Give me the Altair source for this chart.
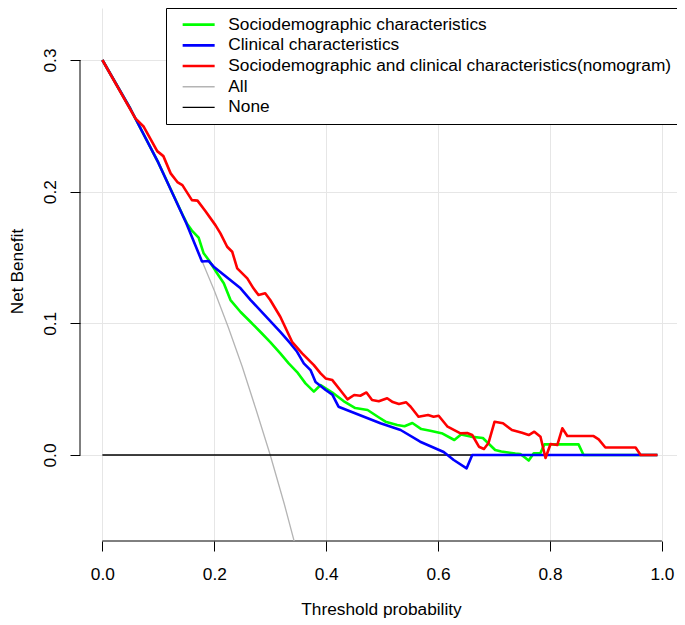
import altair as alt
import pandas as pd

# ---- names, colours ----
NAMES = [
    "Sociodemographic characteristics",
    "Clinical characteristics",
    "Sociodemographic and clinical characteristics(nomogram)",
    "All",
    "None",
]
COLORS = ["#00FF00", "#0000FF", "#FF0000", "#B4B4B4", "#000000"]
WIDTHS = [2.6, 2.6, 2.6, 1.3, 1.3]
DRAW_ORDER = ["All", "None", NAMES[0], NAMES[1], NAMES[2]]

# ---- series (threshold probability, net benefit) ----
socio_x = [0, 0.05, 0.10, 0.145, 0.151, 0.160, 0.172, 0.181, 0.190, 0.205, 0.217, 0.229,
           0.247, 0.265, 0.286, 0.300, 0.318, 0.333, 0.348, 0.363, 0.378, 0.390, 0.411,
           0.431, 0.452, 0.474, 0.493, 0.506, 0.527, 0.540, 0.554, 0.570, 0.586, 0.608,
           0.629, 0.641, 0.658, 0.680, 0.702, 0.713, 0.738, 0.747, 0.762, 0.771, 0.783,
           0.790, 0.851, 0.860, 0.992]
socio_y = [0.300, 0.263, 0.222, 0.181, 0.1759, 0.1705, 0.1651, 0.1532, 0.1481, 0.138,
           0.1304, 0.1177, 0.1086, 0.101, 0.0919, 0.0858, 0.0772, 0.0696, 0.063, 0.0544,
           0.0481, 0.0532, 0.0475, 0.041, 0.0357, 0.0342, 0.0289, 0.0253, 0.0228, 0.0219,
           0.0243, 0.0197, 0.0185, 0.0163, 0.0114, 0.0156, 0.014, 0.0129, 0.0038, 0.0027,
           0.0011, 0.0008, -0.0042, 0.0013, 0.0015, 0.0081, 0.0081, 0.0, 0.0]

clin_x = [0, 0.05, 0.10, 0.15, 0.178, 0.190, 0.199, 0.247, 0.265, 0.318, 0.336, 0.348,
          0.360, 0.372, 0.381, 0.399, 0.411, 0.422, 0.497, 0.533, 0.568, 0.610, 0.628,
          0.651, 0.661, 0.992]
clin_y = [0.300, 0.263, 0.222, 0.176, 0.147, 0.1473, 0.143, 0.1266, 0.1177, 0.0936,
          0.0848, 0.0784, 0.0696, 0.0645, 0.0554, 0.0494, 0.0459, 0.0367, 0.0241, 0.0190,
          0.0101, 0.0023, -0.0038, -0.0101, 0.0, 0.0]

nomo_x = [0, 0.059, 0.074, 0.098, 0.109, 0.122, 0.134, 0.143, 0.160, 0.170, 0.184, 0.202,
          0.211, 0.223, 0.232, 0.241, 0.259, 0.270, 0.279, 0.291, 0.300, 0.318, 0.339,
          0.357, 0.366, 0.378, 0.390, 0.399, 0.411, 0.425, 0.438, 0.450, 0.461, 0.472,
          0.482, 0.494, 0.509, 0.519, 0.530, 0.543, 0.551, 0.565, 0.582, 0.592, 0.601,
          0.617, 0.640, 0.652, 0.661, 0.673, 0.682, 0.690, 0.701, 0.716, 0.732, 0.750,
          0.762, 0.772, 0.783, 0.792, 0.801, 0.813, 0.822, 0.831, 0.878, 0.887, 0.899,
          0.953, 0.962, 0.992]
nomo_y = [0.300, 0.2557, 0.2493, 0.2308, 0.2270, 0.2139, 0.2073, 0.2050, 0.1936, 0.1932,
          0.1853, 0.1746, 0.1683, 0.1582, 0.1544, 0.1418, 0.1342, 0.1266, 0.1215, 0.1228,
          0.1177, 0.1050, 0.0860, 0.0772, 0.0734, 0.0683, 0.0620, 0.0582, 0.0569, 0.0494,
          0.0423, 0.0456, 0.0450, 0.0475, 0.0418, 0.0408, 0.0431, 0.0402, 0.0387, 0.0400,
          0.0367, 0.0291, 0.0304, 0.0291, 0.0298, 0.0215, 0.0165, 0.0167, 0.0152, 0.0063,
          0.0046, 0.0091, 0.0253, 0.0241, 0.0190, 0.0169, 0.0152, 0.0177, 0.0139, -0.0023,
          0.0084, 0.0076, 0.0203, 0.0144, 0.0144, 0.0119, 0.0057, 0.0057, 0.0, 0.0]

all_x = [0, 0.05, 0.10, 0.15, 0.20, 0.225, 0.25, 0.275, 0.30, 0.325, 0.35]
all_y = [0.300, 0.263, 0.222, 0.176, 0.125, 0.097, 0.067, 0.034, 0.000, -0.037, -0.077]

none_x = [0, 0.99]
none_y = [0.0, 0.0]

# ---- axis ticks ----
X_TICKS = [0.0, 0.2, 0.4, 0.6, 0.8, 1.0]
Y_TICKS = [0.0, 0.1, 0.2, 0.3]
X_DOMAIN = [-0.04, 1.027]
Y_DOMAIN = [-0.0653, 0.3395]

series_data = {
    NAMES[0]: (socio_x, socio_y),
    NAMES[1]: (clin_x, clin_y),
    NAMES[2]: (nomo_x, nomo_y),
    "All": (all_x, all_y),
    "None": (none_x, none_y),
}

FONT = "Liberation Sans"
FS = 17.3

legend = alt.Legend(
    orient="none", legendX=86, legendY=0, title=None,
    symbolType="M-3.2,0H3.2", symbolSize=100, symbolOffset=16, labelOffset=21,
    padding=8, rowPadding=2.7, labelFontSize=FS, labelFont=FONT, labelColor="black",
    labelLimit=800, strokeColor="black", fillColor="white",
)

color = alt.Color("series:N", scale=alt.Scale(domain=NAMES, range=COLORS), legend=legend)
swidth = alt.StrokeWidth("series:N", scale=alt.Scale(type="ordinal", domain=NAMES, range=WIDTHS),
                         legend=legend)

x_enc = alt.X(
    "t:Q",
    scale=alt.Scale(domain=X_DOMAIN, nice=False, zero=False),
    axis=alt.Axis(
        values=X_TICKS, format=".1f", domain=False, grid=True, gridColor="#E6E6E6",
        tickColor="black", tickSize=10, tickWidth=1, labelFontSize=FS, labelColor="black",
        labelPadding=14, labelFlush=False, labelOverlap=False, labelFont=FONT,
        titleFontSize=FS, titleFontWeight="normal", titleColor="black", titleFont=FONT,
        titleX=301, titleY=73, titleBaseline="alphabetic", titleAlign="center",
    ),
    title="Threshold probability",
)
y_enc = alt.Y(
    "nb:Q",
    scale=alt.Scale(domain=Y_DOMAIN, nice=False, zero=False),
    axis=alt.Axis(
        values=Y_TICKS, format=".1f", domain=False, grid=True, gridColor="#E6E6E6",
        tickColor="black", tickSize=10, tickWidth=1, labelFontSize=FS, labelColor="black",
        labelAngle=270, labelAlign="center", labelBaseline="alphabetic", labelPadding=15,
        labelFlush=False, labelOverlap=False, labelFont=FONT,
        titleFontSize=FS, titleFontWeight="normal", titleColor="black", titleFont=FONT,
        titleAngle=270, titleX=-58, titleY=263, titleBaseline="alphabetic", titleAlign="center",
    ),
    title="Net Benefit",
)

layers = []

# axis lines (R style: spanning first to last tick)
xline = pd.DataFrame({"t": [X_TICKS[0]], "t2": [X_TICKS[-1]], "nb": [Y_DOMAIN[0]]})
yline = pd.DataFrame({"t": [X_DOMAIN[0]], "nb": [Y_TICKS[0]], "nb2": [Y_TICKS[-1]]})
layers.append(alt.Chart(xline).mark_rule(color="black", strokeWidth=1).encode(
    x=x_enc, x2=alt.X2("t2"), y=y_enc))
layers.append(alt.Chart(yline).mark_rule(color="black", strokeWidth=1).encode(
    x=x_enc, y=y_enc, y2=alt.Y2("nb2")))

for name in DRAW_ORDER:
    xs, ys = series_data[name]
    df = pd.DataFrame({"series": name, "t": xs, "nb": ys, "i": list(range(len(xs)))})
    layers.append(
        alt.Chart(df).mark_line(clip=True, strokeJoin="round").encode(
            x=x_enc, y=y_enc, color=color, strokeWidth=swidth, order="i:Q"
        )
    )

chart = alt.layer(*layers).properties(
    width=597, height=533,
    autosize=alt.AutoSizeParams(type="none"),
    padding={"left": 72, "top": 0, "right": 0, "bottom": 82},
).configure(font=FONT).configure_view(strokeWidth=0)

chart.save("out.html", embed_options={"renderer": "svg", "actions": False})
